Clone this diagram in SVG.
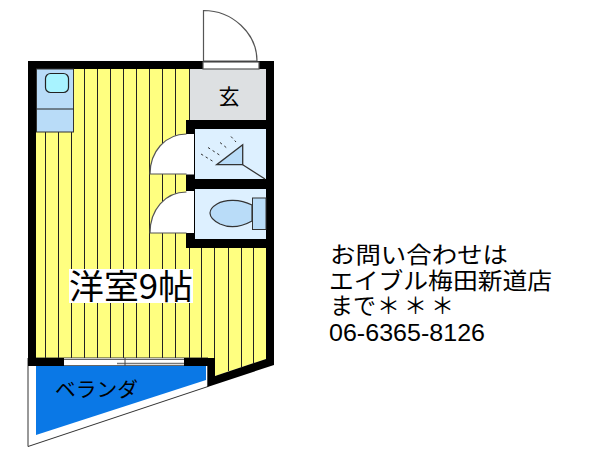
<svg xmlns="http://www.w3.org/2000/svg" width="600" height="451" viewBox="0 0 600 451">
<style>
text{font-family:"Noto Sans CJK JP","Noto Sans",sans-serif;fill:#000}
.dk{stroke:#222;stroke-width:1;fill:none}
.door{fill:#fff;stroke:#555;stroke-width:1.2}
.wall{fill:#000}
.info{font-family:"Liberation Sans","Noto Sans CJK JP",sans-serif;font-size:23px}
</style>
<rect width="600" height="451" fill="#fff"/>
<g id="room">
<polygon points="36,69 190,69 190,248 266,248 266,359 215,376 215,358 36,358" fill="#ffff80"/>
<path class="dk" d="M45.500 132V358M58.500 132V358M71.500 132V358M84.500 69V358M97.500 69V358M110.500 69V358M123.500 69V358M136.500 69V358M149.500 69V358M162.500 69V358M175.500 69V358M189.500 69V358M201.500 248V365M214.500 248V376M228.500 248V371M241.500 248V367M253.500 248V363"/>
</g>
<g id="balcony">
<polygon points="28,358 208,358 208,386.500 28,446.500" fill="#fff" stroke="#333" stroke-width="1"/>
<polygon points="36,366 206,366 206,380 36,435" fill="#0a78e6"/>
<text x="55" y="397" font-size="20" textLength="83" lengthAdjust="spacingAndGlyphs">ベランダ</text>
</g>
<g id="walls">
<path class="wall" d="M28 61H274V365L207.500 387V366H184V358H215V376L266 359V69H36V358H64V366H28Z"/>
<rect class="wall" x="186" y="120" width="82" height="128"/>
</g>
<g id="window">
<rect x="64" y="358.500" width="120" height="7" fill="#fff"/>
<path d="M64 359.500H184M64 365.500H184" stroke="#666" stroke-width="1"/>
<path d="M117 363.500H184" stroke="#777" stroke-width="1.500"/>
<path d="M125 358V366" stroke="#444" stroke-width="1"/>
</g>
<g id="kitchen">
<rect x="36.500" y="69" width="37" height="63" fill="#b9dcf8" stroke="#333" stroke-width="1"/>
<path d="M36.500 109H73.500" stroke="#222" stroke-width="1"/>
<rect x="45.500" y="73.500" width="23" height="19" rx="5" fill="#a8f3ff" stroke="#222" stroke-width="1.200"/>
</g>
<g id="entrance">
<rect x="190" y="69" width="76" height="51" fill="#dde0e2"/>
<text x="229" y="104" font-size="21" text-anchor="middle">玄</text>
</g>
<g id="shower">
<rect x="195" y="129" width="71" height="50" fill="#ddf0ff"/>
<polygon points="242.700,144.700 216.700,164.700 242.700,164.700" fill="#b9dcf8" stroke="#333" stroke-width="1.300"/>
<path d="M242.700 164.700L265 179" stroke="#333" stroke-width="1.200"/>
<path d="M201 154L214 162M208 147.500L221 156M220 142.500L228 149M231 136.500L236 142" stroke="#333" stroke-width="1" stroke-dasharray="2.500 3"/>
</g>
<g id="toilet">
<rect x="195" y="189" width="71" height="50" fill="#ddf0ff"/>
<path d="M252 205C240 199 225 199 217 204C212 207 210 210 210 213C210 217 214 221 220 224C231 229 243 226 252 221Z" fill="#b9dcf8" stroke="#333" stroke-width="1.200"/>
<rect x="252.500" y="198" width="13.500" height="31.500" fill="#b9dcf8" stroke="#333" stroke-width="1"/>
</g>
<g id="doors">
<rect class="door" x="203" y="62" width="56" height="7"/>
<path class="door" d="M203.500 61V10.500C232 10.500 257 33 257 61Z"/>
<rect x="186" y="134" width="8" height="40.500" fill="#fff"/>
<path class="door" d="M186.500 134C165 134 150 152 150 174H186.500"/>
<rect x="186" y="191" width="8" height="42" fill="#fff"/>
<path class="door" d="M186.500 192C165 192 150 210 150 233H186.500"/>
</g>
<g id="room-label">
<rect x="69" y="269" width="124" height="34" fill="#fff"/>
<text x="69" y="299" font-size="34" textLength="124" lengthAdjust="spacingAndGlyphs">洋室9帖</text>
</g>
<g id="info">
<text class="info" x="330" y="263" textLength="178" lengthAdjust="spacingAndGlyphs">お問い合わせは</text>
<text class="info" x="329" y="289" textLength="223" lengthAdjust="spacingAndGlyphs">エイブル梅田新道店</text>
<text class="info" x="330" y="314">まで<tspan x="377">＊</tspan><tspan x="404">＊</tspan><tspan x="431">＊</tspan></text>
<text class="info" x="329" y="341" textLength="156" lengthAdjust="spacingAndGlyphs">06-6365-8126</text>
</g>
</svg>
